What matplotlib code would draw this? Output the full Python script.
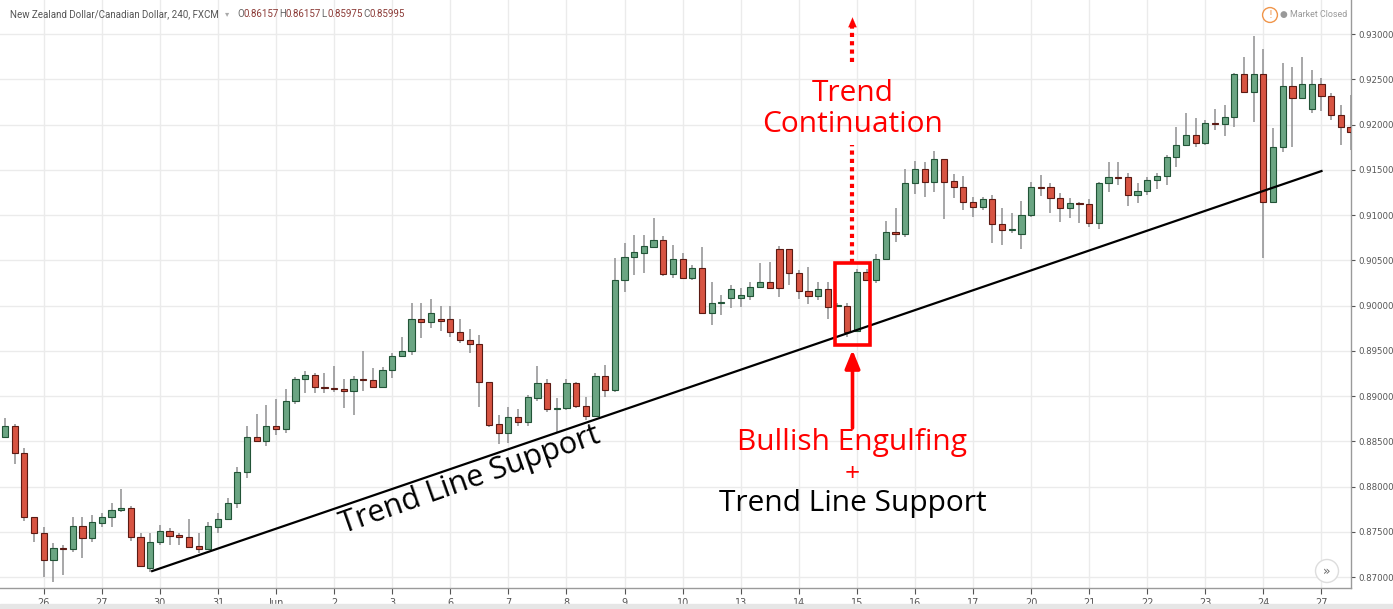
import matplotlib
matplotlib.use("Agg")
import matplotlib.pyplot as plt
from matplotlib.patches import Rectangle
import numpy as np

# 4h candles, NZD/CAD
opens = [0.88547, 0.88669, 0.88370, 0.87663, 0.87486, 0.87188, 0.87321, 0.87310, 0.87564, 0.87431,
         0.87597, 0.87663, 0.87740, 0.87763, 0.87442, 0.87100, 0.87387, 0.87508, 0.87464, 0.87442,
         0.87343, 0.87310, 0.87553, 0.87641, 0.87818, 0.88160, 0.88547, 0.88503, 0.88669, 0.88636,
         0.88945, 0.89188, 0.89232, 0.89100, 0.89089, 0.89078, 0.89055, 0.89188, 0.89177, 0.89100,
         0.89288, 0.89442, 0.89497, 0.89851, 0.89818, 0.89851, 0.89851, 0.89707, 0.89619, 0.89575,
         0.89155, 0.88691, 0.88591, 0.88768, 0.88713, 0.88978, 0.89144, 0.88857, 0.88868, 0.89144,
         0.88890, 0.88779, 0.89221, 0.89067, 0.90282, 0.90536, 0.90580, 0.90647, 0.90724, 0.90348,
         0.90514, 0.90304, 0.90415, 0.89917, 0.90028, 0.90083, 0.90083, 0.90105, 0.90205, 0.90260,
         0.90625, 0.90625, 0.90359, 0.90160, 0.90105, 0.90183, 0.89995, 0.89995, 0.89718, 0.90370,
         0.90282, 0.90514, 0.90812, 0.90790, 0.91354, 0.91509, 0.91365, 0.91619, 0.91376, 0.91310,
         0.91144, 0.91089, 0.91177, 0.90901, 0.90835, 0.90790, 0.91000, 0.91310, 0.91310, 0.91188,
         0.91078, 0.91133, 0.91122, 0.90912, 0.91354, 0.91420, 0.91420, 0.91221, 0.91265, 0.91387,
         0.91431, 0.91641, 0.91774, 0.91884, 0.91796, 0.92017, 0.92006, 0.92083, 0.92558, 0.92359,
         0.92558, 0.91144, 0.91752, 0.92426, 0.92293, 0.92172, 0.92448, 0.92315, 0.92105, 0.91973]
highs = [0.88757, 0.88691, 0.88426, 0.87663, 0.87553, 0.87376, 0.87354, 0.87663, 0.87663, 0.87685,
         0.87707, 0.87818, 0.87973, 0.87785, 0.87486, 0.87486, 0.87575, 0.87542, 0.87486, 0.87641,
         0.87486, 0.87608, 0.87707, 0.87873, 0.88216, 0.88669, 0.88801, 0.88901, 0.88967, 0.89078,
         0.89210, 0.89276, 0.89254, 0.89254, 0.89332, 0.89188, 0.89221, 0.89497, 0.89310, 0.89321,
         0.89475, 0.89652, 0.90028, 0.90028, 0.90072, 0.89995, 0.89995, 0.89851, 0.89741, 0.89674,
         0.89155, 0.88790, 0.88879, 0.88857, 0.89011, 0.89332, 0.89188, 0.88978, 0.89188, 0.89155,
         0.88989, 0.89254, 0.89343, 0.90525, 0.90691, 0.90779, 0.90779, 0.90967, 0.90768, 0.90669,
         0.90580, 0.90448, 0.90647, 0.90260, 0.90116, 0.90227, 0.90194, 0.90260, 0.90470, 0.90481,
         0.90658, 0.90625, 0.90393, 0.90426, 0.90260, 0.90260, 0.90028, 0.90028, 0.90404, 0.90404,
         0.90569, 0.90934, 0.91078, 0.91509, 0.91597, 0.91586, 0.91707, 0.91619, 0.91453, 0.91431,
         0.91199, 0.91199, 0.91221, 0.91078, 0.91022, 0.91155, 0.91365, 0.91442, 0.91354, 0.91243,
         0.91188, 0.91144, 0.91177, 0.91365, 0.91586, 0.91586, 0.91464, 0.91354, 0.91420, 0.91464,
         0.91663, 0.91973, 0.92127, 0.92072, 0.92050, 0.92172, 0.92216, 0.92569, 0.92746, 0.92978,
         0.92835, 0.91962, 0.92680, 0.92636, 0.92746, 0.92602, 0.92514, 0.92348, 0.92216, 0.92326]
lows = [0.88536, 0.88249, 0.87619, 0.87387, 0.87000, 0.86945, 0.87022, 0.87276, 0.87210, 0.87387,
        0.87553, 0.87553, 0.87718, 0.87398, 0.87111, 0.87055, 0.87354, 0.87354, 0.87354, 0.87332,
        0.87265, 0.87299, 0.87486, 0.87641, 0.87763, 0.88094, 0.88503, 0.88448, 0.88569, 0.88591,
        0.88912, 0.89033, 0.89033, 0.89033, 0.89044, 0.88868, 0.88790, 0.89055, 0.89100, 0.89100,
        0.89199, 0.89442, 0.89453, 0.89641, 0.89752, 0.89718, 0.89652, 0.89586, 0.89475, 0.88879,
        0.88658, 0.88470, 0.88481, 0.88669, 0.88669, 0.88945, 0.88823, 0.88602, 0.88846, 0.88868,
        0.88735, 0.88768, 0.88989, 0.89044, 0.90149, 0.90337, 0.90359, 0.90636, 0.90326, 0.90304,
        0.90293, 0.90282, 0.89917, 0.89785, 0.89895, 0.89973, 0.89984, 0.90061, 0.90194, 0.90194,
        0.90094, 0.90227, 0.90072, 0.90017, 0.90061, 0.89851, 0.89984, 0.89652, 0.89707, 0.90282,
        0.90249, 0.90503, 0.90702, 0.90757, 0.91232, 0.91199, 0.91254, 0.90956, 0.91188, 0.91056,
        0.90978, 0.91056, 0.90691, 0.90669, 0.90801, 0.90625, 0.90978, 0.91210, 0.91022, 0.90923,
        0.90967, 0.90912, 0.90868, 0.90846, 0.91254, 0.91332, 0.91100, 0.91133, 0.91221, 0.91288,
        0.91332, 0.91531, 0.91774, 0.91752, 0.91774, 0.91940, 0.91873, 0.91973, 0.92359, 0.92028,
        0.90525, 0.91133, 0.91696, 0.91752, 0.92293, 0.92127, 0.92149, 0.92050, 0.91774, 0.91719]
closes = [0.88669, 0.88370, 0.87663, 0.87486, 0.87188, 0.87321, 0.87310, 0.87564, 0.87431, 0.87608,
          0.87663, 0.87740, 0.87763, 0.87442, 0.87122, 0.87387, 0.87508, 0.87453, 0.87442, 0.87332,
          0.87310, 0.87564, 0.87641, 0.87818, 0.88160, 0.88547, 0.88503, 0.88669, 0.88636, 0.88945,
          0.89188, 0.89232, 0.89100, 0.89089, 0.89078, 0.89055, 0.89188, 0.89177, 0.89100, 0.89288,
          0.89442, 0.89497, 0.89851, 0.89818, 0.89917, 0.89829, 0.89707, 0.89619, 0.89575, 0.89155,
          0.88680, 0.88591, 0.88768, 0.88713, 0.88989, 0.89144, 0.88857, 0.88868, 0.89144, 0.88890,
          0.88779, 0.89221, 0.89067, 0.90282, 0.90536, 0.90591, 0.90658, 0.90724, 0.90348, 0.90514,
          0.90304, 0.90415, 0.89917, 0.90028, 0.90039, 0.90183, 0.90116, 0.90205, 0.90260, 0.90194,
          0.90194, 0.90359, 0.90160, 0.90105, 0.90183, 0.89984, 0.90006, 0.89707, 0.90370, 0.90282,
          0.90514, 0.90812, 0.90790, 0.91354, 0.91509, 0.91365, 0.91619, 0.91365, 0.91310, 0.91144,
          0.91089, 0.91177, 0.90901, 0.90835, 0.90846, 0.91000, 0.91310, 0.91299, 0.91188, 0.91078,
          0.91133, 0.91122, 0.90912, 0.91354, 0.91420, 0.91409, 0.91221, 0.91265, 0.91387, 0.91431,
          0.91641, 0.91774, 0.91884, 0.91796, 0.92017, 0.92006, 0.92083, 0.92558, 0.92359, 0.92558,
          0.91144, 0.91752, 0.92426, 0.92293, 0.92448, 0.92448, 0.92315, 0.92105, 0.91973, 0.91917]

day_labels = ['26', '27', '30', '31', 'Jun', '2', '3', '6', '7', '8', '9', '10',
              '13', '14', '15', '16', '17', '20', '21', '22', '23', '24', '27']
price_ticks = [0.870, 0.875, 0.880, 0.885, 0.890, 0.895, 0.900, 0.905, 0.910, 0.915, 0.920, 0.925, 0.930]
ohlc_labels = ['O', 'H', 'L', 'C']
ohlc_values = ['0.86157', '0.86157', '0.85975', '0.85995']

# trend line end points (candle index, price) and the highlighted candles
trend_x = [15.2, 136.0]
trend_y = [0.87066, 0.91486]
box_x = [85.7, 89.4]
box_y = [0.89564, 0.90469]

green, green_edge = '#6ba583', '#225437'
red, red_edge = '#d75442', '#5b1a13'

W, H = 1393, 609
fig = plt.figure(figsize=(W / 100, H / 100), dpi=100)
ax = fig.add_axes([0, 21 / H, 1351 / W, 588 / H])

x = np.arange(len(opens))
o = np.array(opens); c = np.array(closes)
hi = np.array(highs); lo = np.array(lows)
up = c >= o

ax.vlines(x, lo, hi, color='#8f8f91', lw=1.1, zorder=2)
bottom = np.minimum(o, c)
height = np.maximum(np.abs(c - o), 0.00003)
ax.bar(x[up], height[up], bottom=bottom[up], width=0.64, color=green,
       edgecolor=green_edge, linewidth=0.8, zorder=3)
ax.bar(x[~up], height[~up], bottom=bottom[~up], width=0.64, color=red,
       edgecolor=red_edge, linewidth=0.8, zorder=3)

# trend line
ax.plot(trend_x, trend_y, color='black', lw=1.6, zorder=4)

# engulfing box
ax.add_patch(Rectangle((box_x[0], box_y[0]), box_x[1] - box_x[0], box_y[1] - box_y[0],
                       fill=False, edgecolor='#ff0000', lw=2.6, zorder=5))
arrow_x = (box_x[0] + box_x[1]) / 2

# dotted arrow up (broken by the text)
ax.plot([arrow_x, arrow_x], [box_y[1], 0.91774], color='#ff0000', lw=3,
        ls=(0, (1, 1)), zorder=5)
ax.plot([arrow_x, arrow_x], [0.92691, 0.93080], color='#ff0000', lw=3,
        ls=(0, (1, 1)), zorder=5)
ax.annotate('', xy=(arrow_x, 0.93215), xytext=(arrow_x, 0.93060),
            arrowprops=dict(arrowstyle='-|>,head_length=0.7,head_width=0.3',
                            color='#ff0000', lw=0.1), zorder=5)
# solid arrow to box bottom
ax.annotate('', xy=(arrow_x, 0.89509), xytext=(arrow_x, 0.88647),
            arrowprops=dict(arrowstyle='-|>,head_length=1.1,head_width=0.45',
                            color='#ff0000', lw=2.6, shrinkA=0, shrinkB=0), zorder=5)

fnt = 'Open Sans'
ax.text(arrow_x, 0.92172, 'Trend\nContinuation', color='#ff0000', fontsize=21.5,
        family=fnt, ha='center', va='center', linespacing=1.12, zorder=6)
ax.text(arrow_x, 0.88492, 'Bullish Engulfing', color='#ff0000', fontsize=21.5,
        family=fnt, ha='center', va='center', zorder=6)
ax.text(arrow_x, 0.88138, '+', color='#ff0000', fontsize=19,
        family=fnt, ha='center', va='center', zorder=6)
ax.text(arrow_x, 0.87818, 'Trend Line Support', color='black', fontsize=21.5,
        family=fnt, ha='center', va='center', zorder=6)
ax.text(48.0, 0.88072, 'Trend Line Support', color='black', fontsize=22,
        family=fnt, ha='center', va='center', rotation=19.5, zorder=6)

# axes styling
ax.set_xlim(-0.52, 139.05)
ax.set_ylim(0.86879, 0.93376)
ax.set_xticks(np.arange(len(day_labels)) * 6 + 4)
ax.set_xticklabels(day_labels)
ax.set_yticks(price_ticks)
ax.set_yticklabels(['%.5f' % p for p in price_ticks])
ax.yaxis.tick_right()
ax.tick_params(axis='both', labelsize=7, colors='#555555', length=4, width=0.8)
ax.tick_params(axis='y', labelsize=6.2, pad=2, length=3)
ax.tick_params(axis='x', pad=3)
ax.grid(True, color='#ebebeb', lw=1, zorder=0)
ax.set_axisbelow(True)
for s in ['top', 'left']:
    ax.spines[s].set_visible(False)
for s in ['right', 'bottom']:
    ax.spines[s].set_color('#9a9a9a')
    ax.spines[s].set_linewidth(1)

# header, sized so the title fills the same width as in the screenshot
renderer = fig.canvas.get_renderer()
ttl = fig.text(10 / W, 1 - 14 / H, 'New Zealand Dollar/Canadian Dollar, 240, FXCM', fontsize=8,
               color='#555555', va='center', family='Roboto')
fs_head = 8 * 210 / ttl.get_window_extent(renderer).width
ttl.set_fontsize(fs_head)
fig.text(225 / W, 1 - 14 / H, '▾', fontsize=6, color='#aaaaaa', va='center')
hx = 237
for lab, val in zip(ohlc_labels, ohlc_values):
    fig.text(hx / W, 1 - 14 / H, lab, fontsize=fs_head, color='#666666', va='center',
             family='Roboto')
    fig.text((hx + 6.5) / W, 1 - 14 / H, val, fontsize=fs_head, color='#8b3a36', va='center',
             family='Roboto')
    hx += 42
fig.text(1270 / W, 1 - 15 / H, '!', fontsize=7, color='#f0954a', ha='center', va='center',
         bbox=dict(boxstyle='circle,pad=0.25', fc='white', ec='#f0954a', lw=1))
fig.text(1280 / W, 1 - 15 / H, '● Market Closed', fontsize=6.4, color='#999999', va='center',
         family=['Roboto', 'DejaVu Sans'])

# scroll button at bottom right
fig.text(1327 / W, 1 - 571 / H, '»', fontsize=9, color='#666666', ha='center', va='center',
         bbox=dict(boxstyle='circle,pad=0.4', fc='white', ec='#dddddd', lw=1))

# grey strip at the very bottom
fig.patches.append(Rectangle((0, 0), 1, 5 / H, transform=fig.transFigure,
                             color='#e6e6e6', zorder=0))

fig.savefig('out.png', dpi=100)
